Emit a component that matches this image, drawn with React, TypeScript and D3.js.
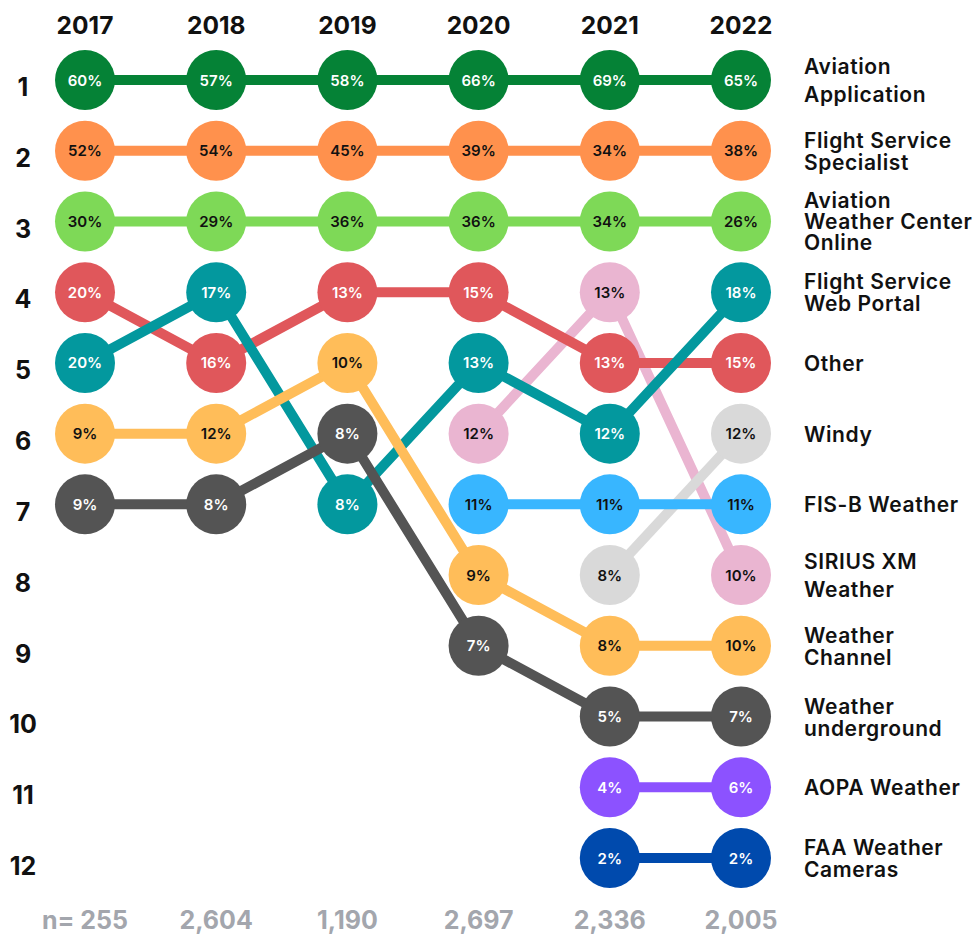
import React from "react";
import * as d3 from "d3";

const years = ["2017", "2018", "2019", "2020", "2021", "2022"];
const sampleSizes = ["n= 255", "2,604", "1,190", "2,697", "2,336", "2,005"];
const rankTicks = [1, 2, 3, 4, 5, 6, 7, 8, 9, 10, 11, 12];

const seriesNames = [
  "Aviation Application",
  "Flight Service Specialist",
  "Aviation Weather Center Online",
  "SIRIUS XM Weather",
  "Windy",
  "Other",
  "Flight Service Web Portal",
  "Weather Channel",
  "Weather underground",
  "FIS-B Weather",
  "AOPA Weather",
  "FAA Weather Cameras",
];

const seriesLabelLines = [
  ["Aviation", "Application"],
  ["Flight Service", "Specialist"],
  ["Aviation", "Weather Center", "Online"],
  ["SIRIUS XM", "Weather"],
  ["Windy"],
  ["Other"],
  ["Flight Service", "Web Portal"],
  ["Weather", "Channel"],
  ["Weather", "underground"],
  ["FIS-B Weather"],
  ["AOPA Weather"],
  ["FAA Weather", "Cameras"],
];

const seriesLabelLeading = [28, 22, 21, 28, 22, 22, 22, 22, 22, 22, 22, 22];

const seriesColors = [
  "#058236",
  "#ff914d",
  "#7ed957",
  "#eab5d1",
  "#d9d9d9",
  "#e0575b",
  "#03989e",
  "#ffbd59",
  "#545454",
  "#38b6ff",
  "#8c52ff",
  "#004aad",
];

const seriesTextColors = [
  "#ffffff",
  "#111111",
  "#111111",
  "#111111",
  "#111111",
  "#ffffff",
  "#ffffff",
  "#111111",
  "#ffffff",
  "#111111",
  "#ffffff",
  "#ffffff",
];

const seriesRanks: (number | null)[][] = [
  [1, 1, 1, 1, 1, 1],
  [2, 2, 2, 2, 2, 2],
  [3, 3, 3, 3, 3, 3],
  [null, null, null, 6, 4, 8],
  [null, null, null, null, 8, 6],
  [4, 5, 4, 4, 5, 5],
  [5, 4, 7, 5, 6, 4],
  [6, 6, 5, 8, 9, 9],
  [7, 7, 6, 9, 10, 10],
  [null, null, null, 7, 7, 7],
  [null, null, null, null, 11, 11],
  [null, null, null, null, 12, 12],
];

const seriesValues: (number | null)[][] = [
  [60, 57, 58, 66, 69, 65],
  [52, 54, 45, 39, 34, 38],
  [30, 29, 36, 36, 34, 26],
  [null, null, null, 12, 13, 10],
  [null, null, null, null, 8, 12],
  [20, 16, 13, 15, 13, 15],
  [20, 17, 8, 13, 12, 18],
  [9, 12, 10, 9, 8, 10],
  [9, 8, 8, 7, 5, 7],
  [null, null, null, 11, 11, 11],
  [null, null, null, null, 4, 6],
  [null, null, null, null, 2, 2],
];

const W = 979;
const H = 937;
const FONT = "Inter, 'Open Sans', sans-serif";

export default function App() {
  const x = d3.scalePoint<string>().domain(years).range([85, 741]);
  const y = d3.scaleLinear().domain([1, 12]).range([80, 858]);
  const yLabel = d3.scaleLinear().domain([1, 12]).range([87, 866]);
  const r = 30;

  const series = seriesNames.map((name, i) => {
    const pts = years
      .map((yr, j) => ({ yr, rank: seriesRanks[i][j], value: seriesValues[i][j] }))
      .filter((p) => p.rank !== null) as { yr: string; rank: number; value: number }[];
    return { name, i, pts };
  });

  const line = d3
    .line<{ yr: string; rank: number }>()
    .x((d) => x(d.yr) as number)
    .y((d) => y(d.rank));

  const labelX = 804;

  return (
    <div>
      <style>{"body{margin:0;}"}</style>
      <svg width={W} height={H} style={{ display: "block", fontFamily: FONT }}>
        <rect width={W} height={H} fill="#ffffff" />
        {years.map((yr) => (
          <text
            key={yr}
            x={x(yr)}
            y={25}
            textAnchor="middle"
            dominantBaseline="central"
            fontSize={24.5}
            fontWeight={700}
            fill="#111"
          >
            {yr}
          </text>
        ))}
        {rankTicks.map((rk) => (
          <text
            key={rk}
            x={23}
            y={yLabel(rk)}
            textAnchor="middle"
            dominantBaseline="central"
            fontSize={25}
            fontWeight={700}
            fill="#111"
          >
            {rk}
          </text>
        ))}
        <g>
          {series.map((s) => (
            <path
              key={s.name}
              d={line(s.pts) || ""}
              fill="none"
              stroke={seriesColors[s.i]}
              strokeWidth={10}
            />
          ))}
        </g>
        <g>
          {series.map((s) =>
            s.pts.map((p) => (
              <g key={s.name + p.yr} transform={`translate(${x(p.yr)},${y(p.rank)})`}>
                <circle r={r} fill={seriesColors[s.i]} />
                <text
                  textAnchor="middle"
                  dominantBaseline="central"
                  fontSize={15}
                  fontWeight={600}
                  fill={seriesTextColors[s.i]}
                >
                  {p.value}%
                </text>
              </g>
            ))
          )}
        </g>
        <g>
          {series.map((s) => {
            const last = s.pts[s.pts.length - 1];
            const lines = seriesLabelLines[s.i];
            const gap = seriesLabelLeading[s.i];
            const cy = y(last.rank);
            const top = cy - ((lines.length - 1) * gap) / 2;
            return (
              <text
                key={s.name}
                x={labelX}
                fontSize={21}
                fontWeight={600}
                letterSpacing={0.6}
                fill="#111"
                dominantBaseline="central"
              >
                {lines.map((ln, k) => (
                  <tspan key={k} x={labelX} y={top + k * gap}>
                    {ln}
                  </tspan>
                ))}
              </text>
            );
          })}
        </g>
        {years.map((yr, j) => (
          <text
            key={"n" + yr}
            x={x(yr)}
            y={920}
            textAnchor="middle"
            dominantBaseline="central"
            fontSize={25}
            fontWeight={700}
            fill="#a3a6ad"
          >
            {sampleSizes[j]}
          </text>
        ))}
      </svg>
    </div>
  );
}
